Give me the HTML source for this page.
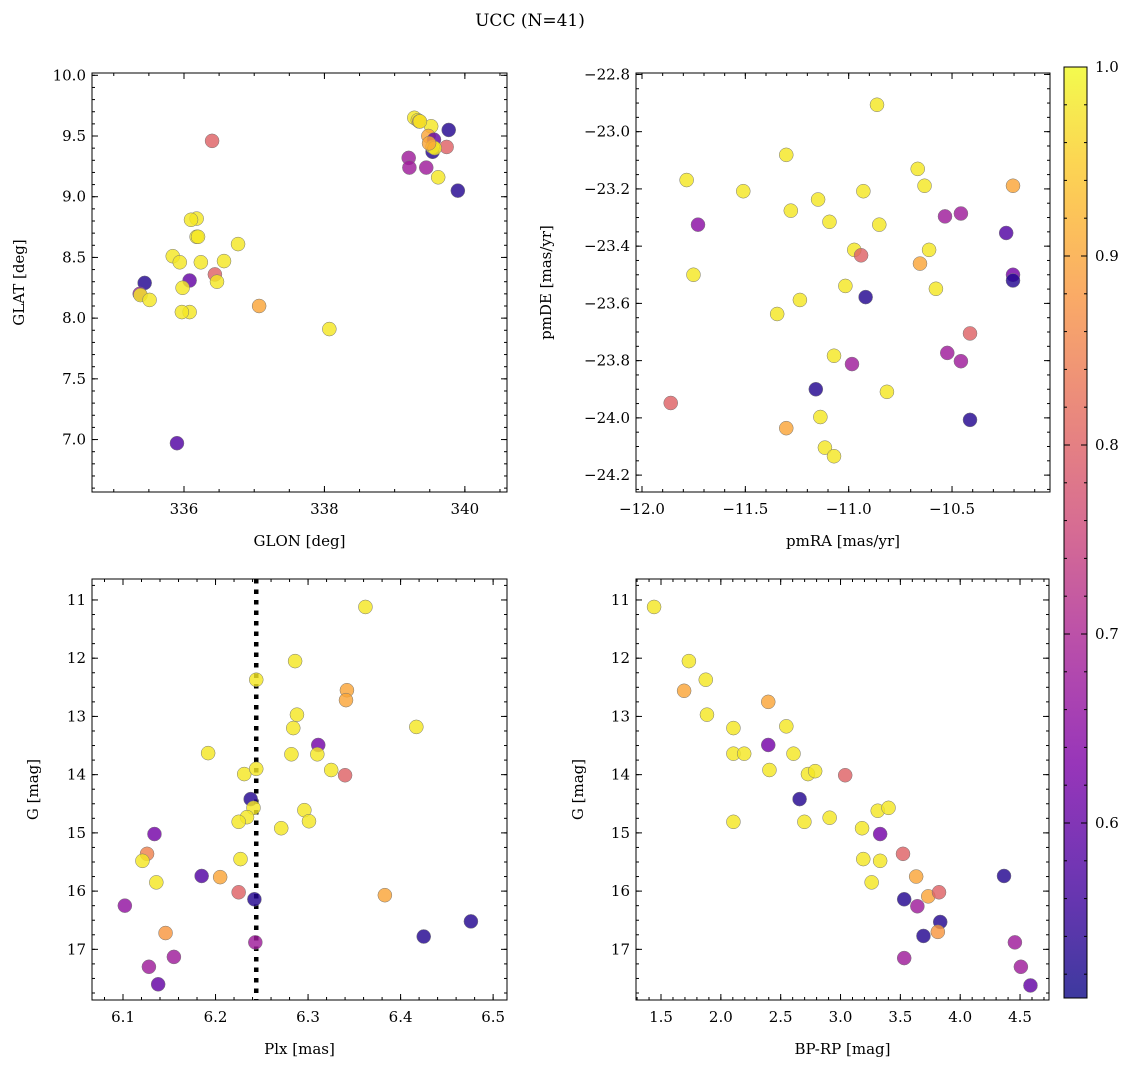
<!DOCTYPE html>
<html><head><meta charset="utf-8">
<style>
html,body{margin:0;padding:0;background:#fff;}
svg{display:block;font-family:"DejaVu Serif","Liberation Serif",serif;}
</style></head>
<body>
<svg id="fig" width="1136" height="1067" viewBox="0 0 1136 1067" xmlns="http://www.w3.org/2000/svg">
<rect width="1136" height="1067" fill="#fff"/>
<text x="530" y="26" font-size="17" text-anchor="middle">UCC (N=41)</text>
</svg>
<script>
// ---- data (probabilities: Y=0.98, O=0.9, S=0.8, M=0.68, P=0.6, B=0.53) ----
const glon=[339.28,339.33,339.35,339.52,339.77,339.48,339.56,339.54,339.54,339.74,339.20,339.21,339.45,339.62,339.90,336.40,336.18,336.18,336.20,336.77,335.84,335.94,336.24,336.57,336.44,336.08,336.47,335.44,335.37,335.38,335.51,335.98,336.08,337.07,338.07,335.90,335.97,339.36,339.57,336.10,339.49];
const glat=[9.65,9.63,9.62,9.58,9.55,9.50,9.47,9.37,9.41,9.41,9.32,9.24,9.24,9.16,9.05,9.46,8.82,8.67,8.67,8.61,8.51,8.46,8.46,8.47,8.36,8.31,8.30,8.29,8.20,8.19,8.15,8.25,8.05,8.10,7.91,6.97,8.05,9.62,9.40,8.81,9.44];
const pTL=[0.98,0.98,0.9,0.98,0.53,0.9,0.6,0.53,0.98,0.8,0.68,0.68,0.68,0.98,0.53,0.8,0.98,0.98,0.98,0.98,0.98,0.98,0.98,0.98,0.8,0.6,0.98,0.53,0.68,0.98,0.98,0.98,0.98,0.9,0.98,0.58,0.98,0.98,0.98,0.98,0.9];
const pmra=[-10.863,-11.784,-11.510,-11.729,-11.751,-11.302,-11.280,-11.148,-11.093,-10.929,-10.973,-10.940,-10.852,-10.666,-10.633,-10.611,-10.655,-10.578,-10.534,-10.457,-10.205,-10.238,-10.205,-10.205,-11.016,-10.918,-11.236,-11.346,-10.413,-10.523,-10.457,-11.071,-10.984,-10.815,-11.159,-11.861,-11.137,-11.302,-11.115,-11.071,-10.413];
const pmde=[-22.906,-23.169,-23.208,-23.325,-23.500,-23.081,-23.276,-23.237,-23.315,-23.208,-23.413,-23.432,-23.325,-23.130,-23.189,-23.413,-23.461,-23.549,-23.296,-23.286,-23.189,-23.354,-23.500,-23.520,-23.539,-23.578,-23.588,-23.637,-23.705,-23.773,-23.802,-23.783,-23.812,-23.909,-23.900,-23.948,-23.997,-24.036,-24.104,-24.134,-24.007];
const pTR=[0.98,0.98,0.98,0.65,0.98,0.98,0.98,0.98,0.98,0.98,0.98,0.8,0.98,0.98,0.98,0.98,0.9,0.98,0.68,0.68,0.9,0.58,0.62,0.53,0.98,0.53,0.98,0.98,0.8,0.68,0.68,0.98,0.68,0.98,0.53,0.8,0.98,0.9,0.98,0.98,0.53];
const plx=[6.286,6.244,6.342,6.341,6.288,6.284,6.311,6.192,6.282,6.310,6.325,6.340,6.231,6.244,6.238,6.241,6.234,6.225,6.296,6.301,6.271,6.227,6.185,6.205,6.225,6.242,6.362,6.417,6.134,6.126,6.121,6.136,6.102,6.146,6.383,6.476,6.425,6.243,6.128,6.155,6.138];
const gBL=[12.05,12.37,12.55,12.72,12.97,13.20,13.49,13.63,13.65,13.65,13.92,14.01,13.99,13.90,14.42,14.57,14.73,14.81,14.61,14.80,14.92,15.45,15.74,15.76,16.02,16.14,11.12,13.18,15.02,15.36,15.48,15.85,16.25,16.72,16.07,16.52,16.78,16.88,17.30,17.13,17.60];
const pBL=[0.98,0.98,0.9,0.9,0.98,0.98,0.62,0.98,0.98,0.98,0.98,0.8,0.98,0.98,0.53,0.98,0.98,0.98,0.98,0.98,0.98,0.98,0.58,0.9,0.8,0.53,0.98,0.98,0.62,0.85,0.98,0.98,0.66,0.88,0.9,0.53,0.53,0.68,0.68,0.68,0.6];
const bprp=[1.442,1.733,1.693,1.874,1.884,2.396,2.105,2.547,2.105,2.195,2.396,2.607,2.406,2.728,2.788,3.039,2.658,2.105,2.698,2.909,3.311,3.401,3.180,3.331,3.190,3.331,3.260,3.522,3.632,3.733,3.823,3.532,4.366,3.833,3.642,3.693,3.813,4.457,3.532,4.507,4.587];
const gBR=[11.12,12.05,12.56,12.37,12.97,12.75,13.20,13.17,13.64,13.64,13.49,13.64,13.92,13.99,13.94,14.01,14.42,14.81,14.81,14.74,14.62,14.57,14.92,15.02,15.45,15.48,15.85,15.36,15.75,16.09,16.02,16.14,15.74,16.53,16.26,16.77,16.70,16.88,17.15,17.30,17.62];
const pBR=[0.98,0.98,0.9,0.98,0.98,0.9,0.98,0.98,0.98,0.98,0.62,0.98,0.98,0.98,0.98,0.8,0.53,0.98,0.98,0.98,0.98,0.98,0.98,0.62,0.98,0.98,0.98,0.8,0.9,0.9,0.8,0.53,0.53,0.53,0.68,0.53,0.88,0.68,0.68,0.68,0.6];
const plxLine=6.244;
const vmin=0.5074, vmax=1.0;
const cbTicks=[0.6,0.7,0.8,0.9,1.0];

const NS="http://www.w3.org/2000/svg";
const svg=document.getElementById('fig');
function mk(tag,attrs,parent){const e=document.createElementNS(NS,tag);for(const k in attrs)e.setAttribute(k,attrs[k]);(parent||svg).appendChild(e);return e;}
const pl=[[0,[13,8,135]],[0.13,[75,3,161]],[0.25,[125,3,168]],[0.38,[168,34,150]],[0.5,[203,70,121]],[0.63,[229,107,93]],[0.75,[248,148,65]],[0.88,[253,195,40]],[1,[240,249,33]]];
function cmap(t){t=Math.max(0,Math.min(1,t));for(let i=1;i<pl.length;i++){if(t<=pl[i][0]){const a=pl[i-1],b=pl[i],f=(t-a[0])/(b[0]-a[0]);return 'rgb('+a[1].map((v,j)=>Math.round(v+(b[1][j]-v)*f)).join(',')+')';}}return 'rgb(240,249,33)';}
function col(p){return cmap((p-vmin)/(vmax-vmin));}

function panel(o){
  const g=mk('g',{});
  
  
  const X=v=>o.x0+(v-o.xmin)/(o.xmax-o.xmin)*(o.x1-o.x0);
  const Y=v=>o.inv? o.y0+(v-o.ymin)/(o.ymax-o.ymin)*(o.y1-o.y0) : o.y1-(v-o.ymin)/(o.ymax-o.ymin)*(o.y1-o.y0);
  if(o.vline!==undefined){const l=mk('line',{x1:X(o.vline),x2:X(o.vline),y1:o.y0,y2:o.y1,stroke:'#000','stroke-width':4.5,'stroke-dasharray':'4.5 6'},g);}
  for(let i=0;i<o.xs.length;i++){
    const c=mk('circle',{cx:X(o.xs[i]),cy:Y(o.ys[i]),r:7,fill:col(o.ps[i]),'fill-opacity':0.82,stroke:'#777','stroke-width':0.5},g);
    
    
  }
  const fr=mk('rect',{x:o.x0,y:o.y0,width:o.x1-o.x0,height:o.y1-o.y0,fill:'none',stroke:'#000','stroke-width':1},g);
  
  const tk=(x1,y1,x2,y2)=>mk('line',{x1,y1,x2,y2,stroke:'#000','stroke-width':1},g);
  const eps=1e-9;
  for(let v=Math.ceil(o.xmin/o.xmi-eps)*o.xmi;v<=o.xmax+eps;v+=o.xmi){const x=X(v);tk(x,o.y1,x,o.y1-3);tk(x,o.y0,x,o.y0+3);}
  for(let v=Math.ceil(o.ymin/o.ymi-eps)*o.ymi;v<=o.ymax+eps;v+=o.ymi){const y=Y(v);tk(o.x0,y,o.x0+3,y);tk(o.x1,y,o.x1-3,y);}
  o.xt.forEach(v=>{const x=X(v);tk(x,o.y1,x,o.y1-6);tk(x,o.y0,x,o.y0+6);
    const t=mk('text',{x:x,y:o.y1+22,'font-size':15,'text-anchor':'middle'},g);t.textContent=o.xf(v);});
  o.yt.forEach(v=>{const y=Y(v);tk(o.x0,y,o.x0+6,y);tk(o.x1,y,o.x1-6,y);
    const t=mk('text',{x:o.x0-6,y:y+5,'font-size':15,'text-anchor':'end'},g);t.textContent=o.yf(v);});
  const xl=mk('text',{x:(o.x0+o.x1)/2,y:o.y1+54,'font-size':15,'text-anchor':'middle'},g);xl.textContent=o.xl;
  const yx=o.ylx,yy=(o.y0+o.y1)/2;
  const yl=mk('text',{x:yx,y:yy,'font-size':15,'text-anchor':'middle',transform:`rotate(-90 ${yx} ${yy})`},g);yl.textContent=o.yl;
}
const mfix=(d)=>v=>{let s=v.toFixed(d);return (v<0?'\u2212'+s.slice(1):s);};
const rng=(a,b,s)=>{const r=[];for(let v=a;v<=b+1e-9;v+=s)r.push(+v.toFixed(4));return r;};

panel({name:'glon-glat-panel',x0:92,x1:507,y0:73,y1:492,xmin:334.69,xmax:340.60,ymin:6.568,ymax:10.019,xs:glon,ys:glat,ps:pTL,
  xt:[336,338,340],xmi:0.5,yt:rng(7,10,0.5),ymi:0.1,xf:v=>v.toFixed(0),yf:mfix(1),xl:'GLON [deg]',yl:'GLAT [deg]',ylx:24});
panel({name:'proper-motion-panel',x0:636,x1:1050,y0:73,y1:492,xmin:-12.029,xmax:-10.026,ymin:-24.259,ymax:-22.795,xs:pmra,ys:pmde,ps:pTR,
  xt:rng(-12,-10.5,0.5),xmi:0.1,yt:rng(-24.2,-22.8,0.2),ymi:0.05,xf:mfix(1),yf:mfix(1),xl:'pmRA [mas/yr]',yl:'pmDE [mas/yr]',ylx:551});
panel({name:'plx-g-panel',x0:92,x1:507,y0:579,y1:1000,xmin:6.0665,xmax:6.515,ymin:10.64,ymax:17.87,inv:true,xs:plx,ys:gBL,ps:pBL,vline:plxLine,
  xt:rng(6.1,6.5,0.1),xmi:0.02,yt:rng(11,17,1),ymi:0.25,xf:mfix(1),yf:v=>v.toFixed(0),xl:'Plx [mas]',yl:'G [mag]',ylx:38});
panel({name:'cmd-panel',x0:636,x1:1049,y0:579,y1:1000,xmin:1.291,xmax:4.742,ymin:10.64,ymax:17.87,inv:true,xs:bprp,ys:gBR,ps:pBR,
  xt:rng(1.5,4.5,0.5),xmi:0.1,yt:rng(11,17,1),ymi:0.25,xf:mfix(1),yf:v=>v.toFixed(0),xl:'BP-RP [mag]',yl:'G [mag]',ylx:583});

// colorbar
const cb=mk('g',{});


const cx0=1064,cx1=1087,cy0=67,cy1=998;
const defs=mk('defs',{},cb);const lg=mk('linearGradient',{id:'cbg',x1:0,y1:1,x2:0,y2:0},defs);
for(let i=0;i<=20;i++){mk('stop',{offset:i/20,'stop-color':cmap(i/20)},lg);}
mk('rect',{x:cx0,y:cy0,width:cx1-cx0,height:cy1-cy0,fill:'url(#cbg)','fill-opacity':0.8},cb);
mk('rect',{x:cx0,y:cy0,width:cx1-cx0,height:cy1-cy0,fill:'none',stroke:'#000','stroke-width':1},cb);
const CY=v=>cy1-(v-vmin)/(vmax-vmin)*(cy1-cy0);
for(let v=0.52;v<=1.0001;v+=0.02){const y=CY(v);mk('line',{x1:cx1,x2:cx1-3,y1:y,y2:y,stroke:'#000'},cb);mk('line',{x1:cx0,x2:cx0+3,y1:y,y2:y,stroke:'#000'},cb);}
cbTicks.forEach(v=>{const y=CY(v);mk('line',{x1:cx1,x2:cx1-6,y1:y,y2:y,stroke:'#000'},cb);mk('line',{x1:cx0,x2:cx0+6,y1:y,y2:y,stroke:'#000'},cb);
  const t=mk('text',{x:cx1+8,y:y+5,'font-size':15},cb);t.textContent=v.toFixed(1);});
</script>
</body></html>
